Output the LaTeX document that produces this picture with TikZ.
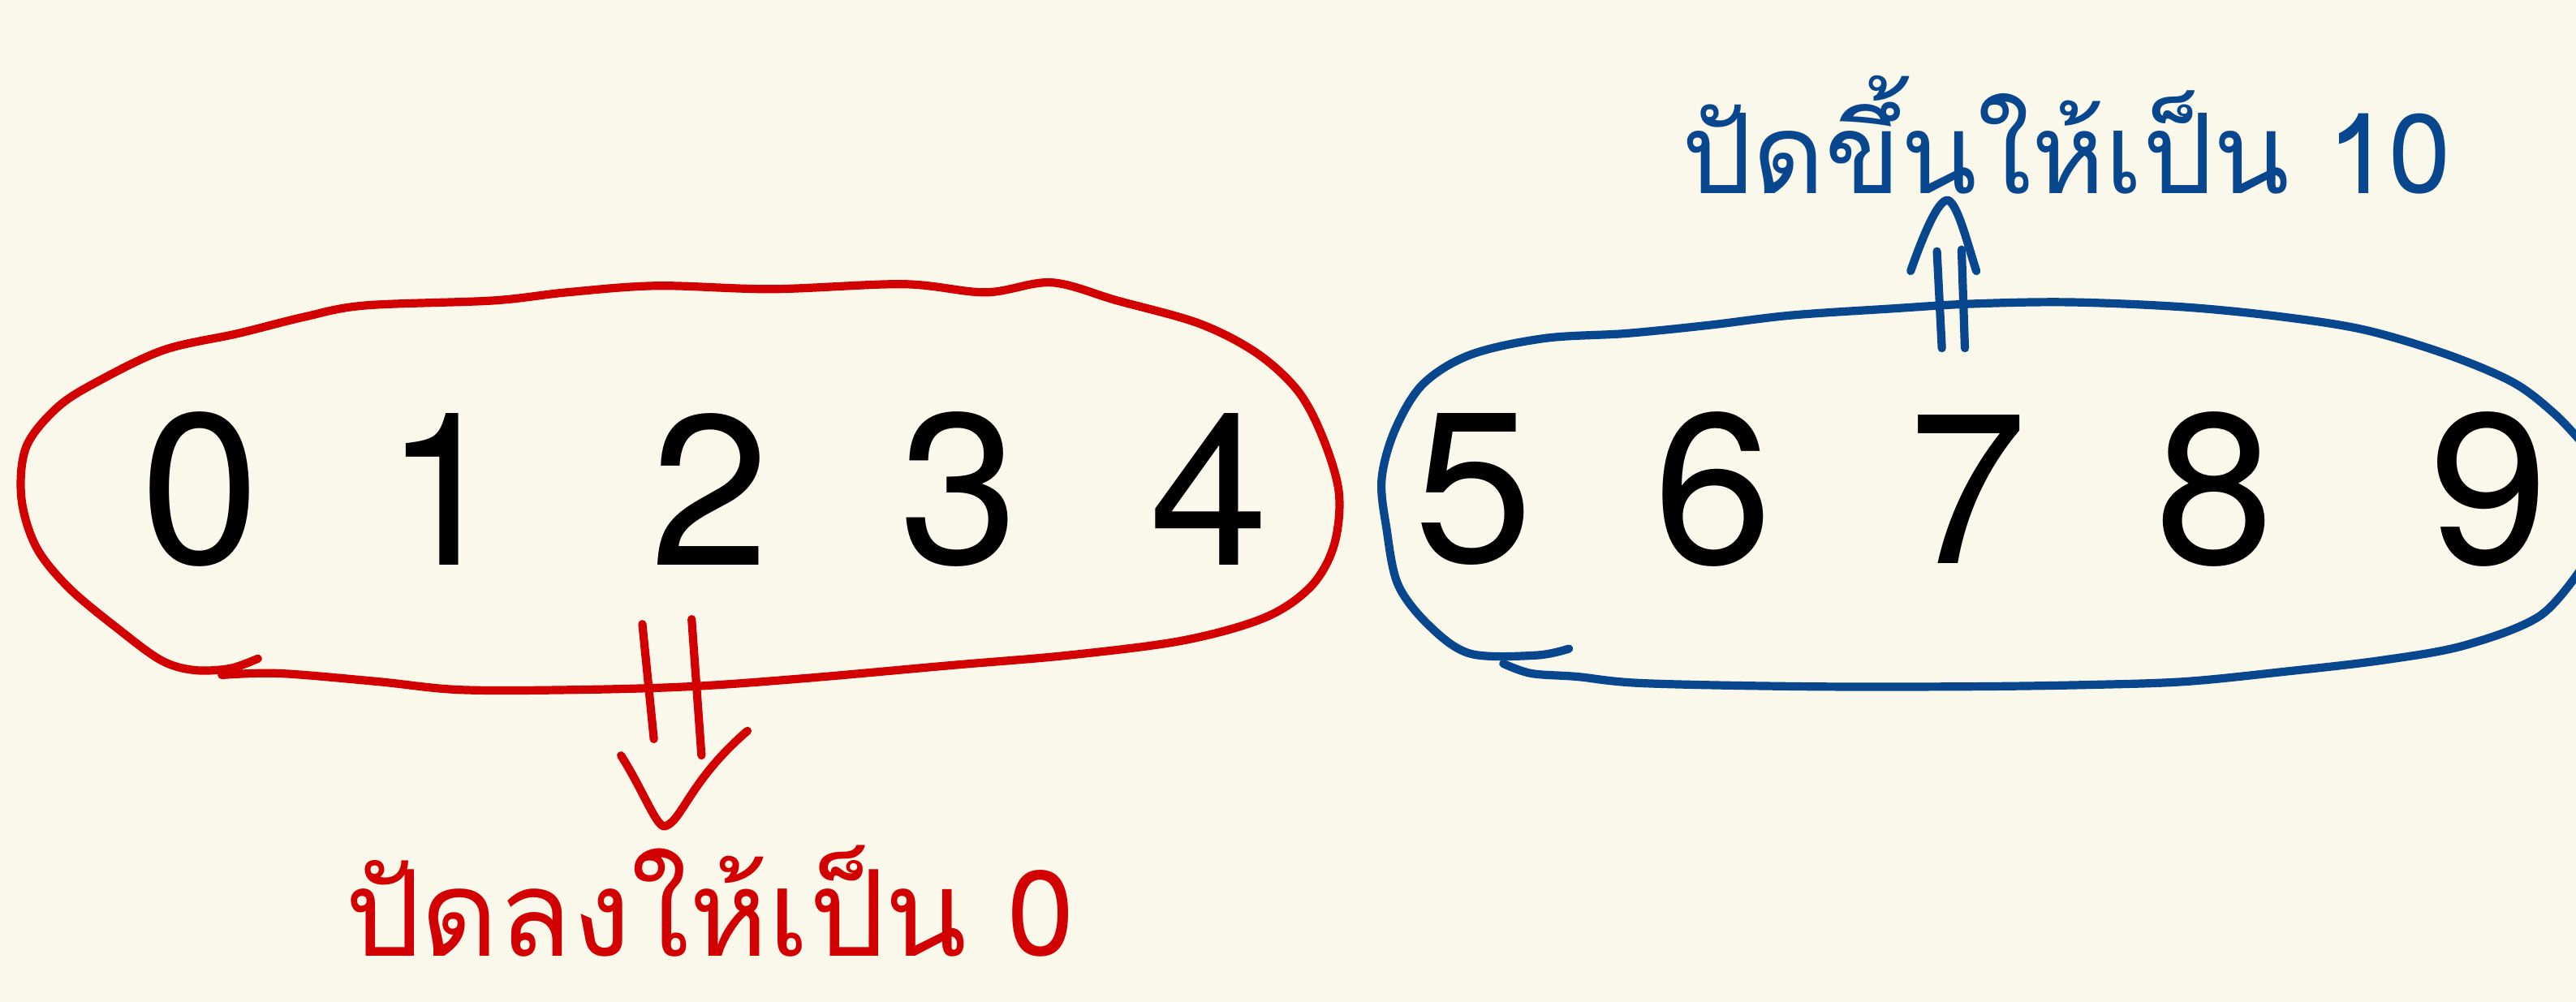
\documentclass[tikz,border=0pt]{standalone}
\usepackage{fontspec}
\setmainfont{TeX Gyre Heros}
\newfontfamily\thaifont[Script=Thai]{Loma}
\usetikzlibrary{positioning}
\definecolor{paper}{RGB}{250,247,235}
\definecolor{penred}{RGB}{210,0,0}
\definecolor{penblue}{RGB}{8,70,142}

\begin{document}
\begin{tikzpicture}[x=0.02024cm, y=-0.02024cm, every node/.style={inner sep=0pt},
	pen/.style={line width=2.9pt, line cap=round, line join=round},
	digit/.style={font=\fontsize{75}{80}\selectfont},
	note/.style={font=\thaifont\fontsize{42}{46}\selectfont, text depth=0pt}]
	\fill[paper] (0,0) rectangle (1568,610);
	\useasboundingbox (0,0) rectangle (1568,610);
	% digits
	\foreach \n/\x in {0/122,1/270,2/432,3/584,4/736,5/897,6/1043,7/1198,8/1348,9/1515}
		\node[digit] (d\n) at (\x,298) {\n};
	% notes
	\node[note, penred, anchor=base] (down) at (432,582) {ปัดลงให้เป็น 0};
	\node[note, penblue, anchor=base, font=\thaifont\fontsize{39}{44}\selectfont] (up) at (1258,118) {ปัดขึ้นให้เป็น 10};
	% red loop
	\draw[pen, penred] plot[smooth, tension=0.55] coordinates {(157,401) (140,407) (118,408) (98,402) (72,383) (42,358) (22,333) (13,303) (16,272) (35,248) (60,232) (100,213) (145,203) (185,193) (222,186) (300,183) (345,178) (400,174) (470,176) (550,173) (600,178) (640,172) (680,183) (730,197) (765,215) (790,238) (805,266) (815,300) (812,332) (798,357) (770,376) (720,390) (650,399) (580,405) (490,413) (420,418) (350,420) (280,420) (230,415) (170,410) (135,411)};
	% blue loop
	\draw[pen, penblue] plot[smooth, tension=0.55] coordinates {(955,395) (935,399) (895,398) (870,381) (851,356) (844,322) (841,292) (849,262) (866,234) (895,216) (940,206) (990,203) (1040,198) (1090,192) (1150,188) (1200,185) (1260,184) (1330,187) (1390,193) (1440,201) (1490,216) (1530,233) (1555,252) (1572,270)};
	\draw[pen, penblue] plot[smooth, tension=0.55] coordinates {(1572,345) (1546,375) (1500,393) (1450,402) (1390,409) (1330,415) (1270,417) (1200,418) (1100,418) (1000,416) (960,412) (932,410) (915,404)};
	% arrow down
	\coordinate (ra) at (391,380);
	\coordinate (rb) at (398,450);
	\coordinate (rc) at (421,377);
	\coordinate (rd) at (427,460);
	\draw[pen, penred] (ra) -- (rb) (rc) -- (rd);
	\draw[pen, penred] (378,460) .. controls (392,482) and (400,505) .. (405,503) .. controls (415,500) and (420,475) .. (455,445);
	% arrow up
	\coordinate (ba) at (1179,153);
	\coordinate (bb) at (1182,212);
	\coordinate (bc) at (1194,152);
	\coordinate (bd) at (1196,212);
	\draw[pen, penblue] (ba) -- (bb) (bc) -- (bd);
	\draw[pen, penblue] (1163,165) .. controls (1170,145) and (1180,120) .. (1186,122) .. controls (1192,125) and (1198,150) .. (1203,165);
\end{tikzpicture}
\end{document}
